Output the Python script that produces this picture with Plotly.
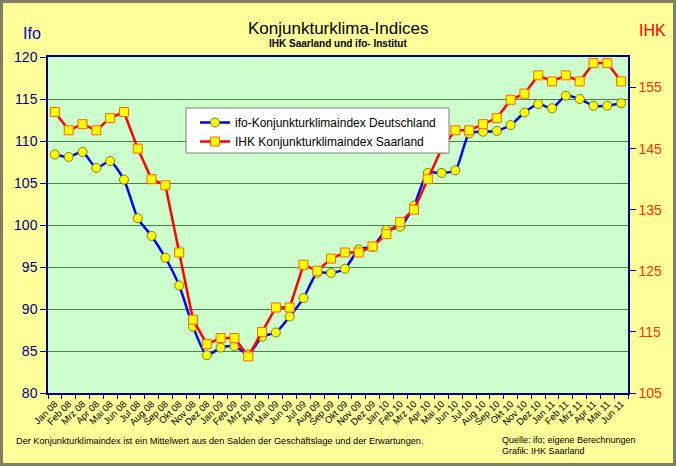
import plotly.graph_objects as go

months = ["Jan 08", "Feb 08", "Mrz 08", "Apr 08", "Mai 08", "Jun 08", "Jul 08", "Aug 08", "Sep 08", "Okt 08", "Nov 08", "Dez 08",
          "Jan 09", "Feb 09", "Mrz 09", "Apr 09", "Mai 09", "Jun 09", "Jul 09", "Aug 09", "Sep 09", "Okt 09", "Nov 09", "Dez 09",
          "Jan 10", "Feb 10", "Mrz 10", "Apr 10", "Mai 10", "Jun 10", "Jul 10", "Aug 10", "Sep 10", "Okt 10", "Nov 10", "Dez 10",
          "Jan 11", "Feb 11", "Mrz 11", "Apr 11", "Mai 11", "Jun 11"]

ifo = [108.4, 108.1, 108.7, 106.8, 107.6, 105.4, 100.8, 98.7, 96.1, 92.8, 87.9, 84.5,
       85.4, 85.6, 84.6, 86.7, 87.2, 89.1, 91.3, 94.3, 94.3, 94.8, 97.1, 97.4,
       99.4, 99.8, 102.3, 106.2, 106.2, 106.5, 110.9, 111.1, 111.2, 111.9, 113.4, 114.4,
       113.9, 115.4, 115.0, 114.2, 114.2, 114.5]

ihk = [151, 148, 149, 148, 150, 151, 145, 140, 139, 128, 117, 113,
       114, 114, 111, 115, 119, 119, 126, 125, 127, 128, 128, 129,
       131, 133, 135, 140, 145, 148, 148, 149, 150, 153, 154, 157,
       156, 157, 156, 159, 159, 156]

ifo_name = "ifo-Konjunkturklimaindex Deutschland"
ihk_name = "IHK Konjunkturklimaindex Saarland"

FONT = "Liberation Sans, Arial, sans-serif"

fig = go.Figure()
fig.add_trace(go.Scatter(
    x=months, y=ifo, name=ifo_name, mode="lines+markers",
    line=dict(color="#0000FF", width=2.5, shape="spline", smoothing=0.6),
    marker=dict(symbol="circle", size=9, color="#FFFF00", line=dict(color="#808000", width=1)),
    yaxis="y"))
fig.add_trace(go.Scatter(
    x=months, y=ihk, name=ihk_name, mode="lines+markers",
    line=dict(color="#FF0000", width=2.5),
    marker=dict(symbol="square", size=9, color="#FFFF00", line=dict(color="#FF6600", width=1)),
    yaxis="y2"))

W, H = 676, 466
L, R, T, B = 48, 48, 57, 73
pw, ph = W - L - R, H - T - B

def px(xp):
    return (xp - L) / pw

def py(yp):
    return (H - B - yp) / ph

shapes = [
    # legend box
    dict(type="rect", xref="paper", yref="paper", x0=px(186), x1=px(449), y0=py(153), y1=py(108),
         fillcolor="white", line=dict(color="#808080", width=1), layer="above"),
    # outer border
    dict(type="rect", xref="paper", yref="paper", x0=px(1.5), x1=px(W - 1.5), y0=py(H - 1.5), y1=py(1.5),
         fillcolor="rgba(0,0,0,0)", line=dict(color="#808060", width=3), layer="above"),
]

annotations = [
    dict(text="Konjunkturklima-Indices", x=px(338), y=py(28), xref="paper", yref="paper",
         showarrow=False, font=dict(family=FONT, size=17, color="black"), xanchor="center", yanchor="middle"),
    dict(text="<b>IHK Saarland und ifo- Institut</b>", x=px(338), y=py(44), xref="paper", yref="paper",
         showarrow=False, font=dict(family=FONT, size=10, color="black"), xanchor="center", yanchor="middle"),
    dict(text="Ifo", x=px(32), y=py(33), xref="paper", yref="paper",
         showarrow=False, font=dict(family=FONT, size=16, color="#0000CC"), xanchor="center", yanchor="middle"),
    dict(text="IHK", x=px(652), y=py(30), xref="paper", yref="paper",
         showarrow=False, font=dict(family=FONT, size=16, color="#FF0000"), xanchor="center", yanchor="middle"),
    dict(text="Der Konjunkturklimaindex ist ein Mittelwert aus den Salden der Geschäftslage und der Erwartungen.",
         x=px(14), y=py(441), xref="paper", yref="paper", showarrow=False,
         font=dict(family=FONT, size=9.2, color="black"), xanchor="left", yanchor="middle"),
    dict(text="Quelle: ifo; eigene Berechnungen", x=px(500), y=py(440), xref="paper", yref="paper",
         showarrow=False, font=dict(family=FONT, size=9, color="black"), xanchor="left", yanchor="middle"),
    dict(text="Grafik: IHK Saarland", x=px(500), y=py(451), xref="paper", yref="paper",
         showarrow=False, font=dict(family=FONT, size=9, color="black"), xanchor="left", yanchor="middle"),
]

fig.update_layout(
    width=W, height=H,
    margin=dict(l=L, r=R, t=T, b=B, pad=0),
    paper_bgcolor="#FFFF99", plot_bgcolor="#CCFFCC",
    font=dict(family=FONT, size=11, color="black"),
    showlegend=True,
    legend=dict(x=px(195), y=py(108), xanchor="left", yanchor="top", bgcolor="rgba(0,0,0,0)",
                borderwidth=0, font=dict(family=FONT, size=12, color="black"), itemwidth=30),
    xaxis=dict(type="category", range=[-0.5, len(months) - 0.5], tickson="boundaries",
               tickangle=-45, tickfont=dict(family=FONT, size=9.5, color="black"),
               showgrid=False, zeroline=False, showline=True, linecolor="#000080", linewidth=1.5,
               ticks="outside", ticklen=4, tickcolor="#000080", mirror=True),
    yaxis=dict(range=[80, 120], dtick=5, tick0=80, showgrid=True, gridcolor="#4F7F4F", gridwidth=1,
               tickfont=dict(family=FONT, size=14, color="#000080"), zeroline=False,
               showline=True, linecolor="#000080", linewidth=1.5, ticks="outside", ticklen=6,
               tickcolor="#000080", mirror=True),
    yaxis2=dict(range=[105, 160], tickmode="array", tickvals=[105, 115, 125, 135, 145, 155],
                overlaying="y", side="right", showgrid=False, zeroline=False,
                tickfont=dict(family=FONT, size=14, color="#FF3300"),
                showline=True, linecolor="#000080", linewidth=1.5, ticks="outside", ticklen=6,
                tickcolor="#000080"),
    shapes=shapes,
    annotations=annotations,
)

fig.write_html("out.html", config={"displayModeBar": False},
               post_script="document.body.style.margin='0';document.body.style.overflow='hidden';")
